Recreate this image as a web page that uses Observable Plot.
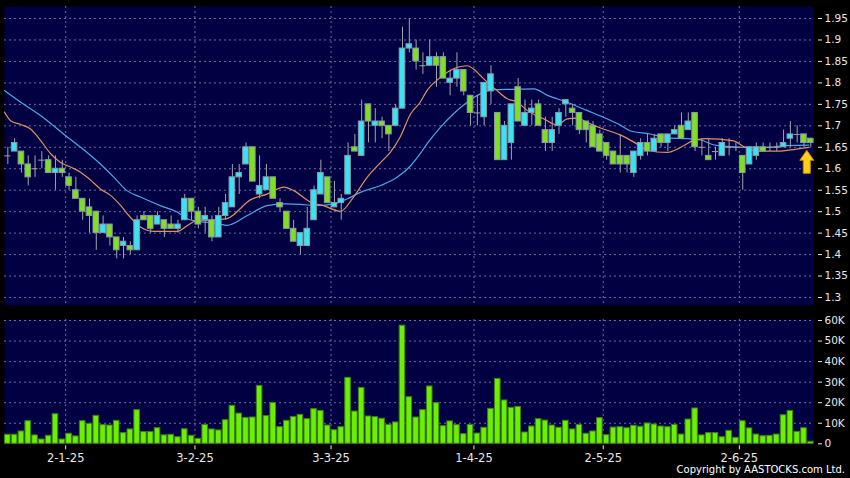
<!DOCTYPE html>
<html><head><meta charset="utf-8">
<script src="https://cdn.jsdelivr.net/npm/d3@7"></script>
<script src="https://cdn.jsdelivr.net/npm/@observablehq/plot@0.6"></script>
<style>
html,body{margin:0;padding:0;background:#000;}
#wrap{position:relative;width:850px;height:478px;background:#000;overflow:hidden;font-family:"DejaVu Sans",Verdana,sans-serif;}
#price{position:absolute;left:0;top:0;}
#vol{position:absolute;left:0;top:310px;}
#copy{position:absolute;right:5px;top:464px;color:#fff;font-size:10px;white-space:nowrap;}
svg{overflow:visible}
</style></head><body>
<div id="wrap"><div id="price"></div><div id="vol"></div><div id="copy">Copyright by AASTOCKS.com Ltd.</div></div>
<script>
// ---- data, one entry per trading day ----
const openP  = [1.63,1.64,1.64,1.61,1.60,1.62,1.62,1.59,1.60,1.58,1.55,1.53,1.51,1.50,1.45,1.47,1.44,1.42,1.42,1.41,
                1.49,1.49,1.47,1.48,1.47,1.46,1.48,1.53,1.50,1.48,1.48,1.44,1.49,1.51,1.58,1.61,1.65,1.54,1.55,1.58,
                1.52,1.50,1.46,1.42,1.42,1.48,1.54,1.58,1.51,1.52,1.54,1.65,1.63,1.75,1.70,1.71,1.70,1.70,1.74,1.88,
                1.88,1.84,1.84,1.86,1.86,1.80,1.81,1.83,1.77,1.73,1.72,1.78,1.73,1.62,1.66,1.79,1.70,1.73,1.75,1.69,
                1.66,1.70,1.75,1.74,1.73,1.71,1.70,1.68,1.66,1.64,1.63,1.63,1.59,1.63,1.66,1.64,1.68,1.66,1.68,1.70,
                1.69,1.73,1.65,1.63,1.64,1.63,1.65,1.65,1.63,1.61,1.63,1.65,1.65,1.65,1.65,1.67,1.68,1.68,1.67];
const highP  = [1.65,1.67,1.64,1.63,1.63,1.64,1.63,1.63,1.62,1.59,1.58,1.53,1.53,1.50,1.49,1.47,1.44,1.44,1.43,1.49,
                1.50,1.49,1.50,1.48,1.49,1.48,1.54,1.53,1.51,1.51,1.49,1.51,1.54,1.61,1.61,1.66,1.65,1.63,1.61,1.58,
                1.53,1.50,1.48,1.45,1.51,1.56,1.62,1.58,1.57,1.54,1.66,1.68,1.76,1.75,1.74,1.72,1.70,1.75,1.93,1.95,
                1.90,1.87,1.90,1.87,1.87,1.83,1.87,1.83,1.77,1.77,1.80,1.84,1.73,1.71,1.75,1.81,1.76,1.76,1.76,1.72,
                1.72,1.74,1.76,1.75,1.73,1.71,1.71,1.69,1.66,1.64,1.68,1.63,1.64,1.67,1.68,1.68,1.68,1.68,1.70,1.73,
                1.73,1.73,1.67,1.67,1.65,1.67,1.67,1.66,1.63,1.65,1.66,1.66,1.66,1.66,1.69,1.71,1.70,1.68,1.67];
const lowP   = [1.61,1.64,1.59,1.56,1.58,1.60,1.59,1.55,1.58,1.55,1.53,1.48,1.45,1.41,1.45,1.42,1.39,1.39,1.40,1.41,
                1.48,1.45,1.47,1.44,1.46,1.45,1.48,1.48,1.46,1.45,1.43,1.44,1.48,1.51,1.54,1.61,1.57,1.53,1.55,1.53,
                1.50,1.46,1.43,1.40,1.42,1.48,1.54,1.52,1.51,1.48,1.54,1.64,1.63,1.66,1.66,1.67,1.64,1.70,1.74,1.87,
                1.83,1.82,1.84,1.79,1.81,1.77,1.79,1.77,1.70,1.70,1.70,1.75,1.62,1.62,1.62,1.71,1.70,1.70,1.70,1.64,
                1.64,1.68,1.72,1.70,1.68,1.66,1.65,1.64,1.62,1.61,1.59,1.59,1.58,1.62,1.63,1.64,1.65,1.64,1.68,1.67,
                1.69,1.64,1.63,1.62,1.62,1.63,1.63,1.64,1.55,1.61,1.62,1.64,1.64,1.64,1.65,1.65,1.66,1.65,1.65];
const closeP = [1.63,1.66,1.61,1.58,1.60,1.62,1.59,1.60,1.59,1.56,1.53,1.50,1.49,1.45,1.47,1.44,1.41,1.43,1.41,1.48,
                1.48,1.46,1.49,1.46,1.46,1.47,1.53,1.50,1.47,1.49,1.44,1.49,1.52,1.58,1.59,1.65,1.57,1.56,1.58,1.53,
                1.51,1.46,1.43,1.45,1.46,1.55,1.59,1.52,1.52,1.53,1.63,1.64,1.71,1.71,1.71,1.70,1.68,1.74,1.88,1.89,
                1.85,1.84,1.86,1.84,1.81,1.81,1.83,1.78,1.73,1.73,1.80,1.82,1.62,1.70,1.75,1.71,1.73,1.74,1.70,1.66,
                1.69,1.73,1.76,1.73,1.69,1.69,1.65,1.64,1.63,1.61,1.61,1.61,1.64,1.66,1.64,1.67,1.66,1.68,1.69,1.67,
                1.71,1.65,1.65,1.62,1.64,1.66,1.65,1.65,1.59,1.65,1.65,1.64,1.65,1.65,1.66,1.68,1.68,1.66,1.66];
const volumeK = [4.4,4.4,6.0,11.0,4.1,2.1,3.9,14.4,2.1,4.9,3.6,11.0,9.7,13.6,9.1,8.9,11.2,5.2,7.0,16.4,
                 5.7,5.7,7.6,4.1,4.4,3.2,7.1,3.9,2.4,9.2,7.0,6.5,11.5,18.5,14.7,12.6,12.8,28.2,13.5,19.9,
                 8.1,11.2,13.1,14.1,12.0,16.9,16.0,8.9,6.6,8.1,32.1,15.7,27.2,13.3,13.0,12.2,9.2,10.4,57.5,22.7,
                 12.8,16.4,27.9,19.8,8.6,10.9,9.1,4.7,9.2,5.0,7.8,17.0,31.6,21.1,17.5,18.0,5.5,8.4,12.0,11.3,
                 8.9,7.8,11.2,7.0,9.2,4.9,6.0,12.5,4.2,7.9,8.1,7.6,8.8,8.3,9.9,9.4,8.4,8.1,9.2,4.5,
                 11.8,17.2,4.1,5.2,5.2,3.2,6.3,2.9,11.0,7.5,4.5,3.7,3.9,4.5,13.9,16.0,5.8,7.6,1.0];
// moving-average lines: [day position, value]
const maShort = [[-0.5,1.732],[0.4,1.712],[1.9,1.703],[3.3,1.693],[4.8,1.666],[6.3,1.635],[7.7,1.615],[9.2,1.604],
  [10.7,1.592],[12.2,1.573],[13.6,1.553],[15.1,1.538],[16.6,1.514],[18.0,1.487],[19.5,1.464],[21.4,1.454],[24.9,1.454],
  [26.4,1.468],[27.9,1.480],[29.3,1.480],[32.2,1.484],[35.7,1.528],[38.1,1.541],[40.6,1.557],[42.0,1.549],[44.5,1.522],
  [46.4,1.514],[48.9,1.501],[50.8,1.534],[52.8,1.580],[54.8,1.615],[56.2,1.638],[57.7,1.675],[59.2,1.728],[60.6,1.755],
  [61.6,1.782],[63.6,1.813],[65.5,1.833],[67.5,1.840],[68.7,1.829],[69.9,1.810],[71.9,1.782],[73.4,1.763],[74.9,1.755],
  [76.3,1.736],[78.8,1.716],[80.7,1.702],[82.2,1.716],[83.7,1.718],[85.1,1.708],[87.1,1.695],[89.0,1.685],[90.0,1.679],
  [92.0,1.662],[93.5,1.647],[95.4,1.639],[96.9,1.638],[98.9,1.650],[100.8,1.666],[102.5,1.670],[106.7,1.665],[108.1,1.652],
  [110.1,1.641],[113.1,1.641],[115.0,1.644],[117.7,1.650]];
const maLong = [[-0.5,1.782],[1.9,1.755],[4.8,1.724],[8.5,1.677],[10.7,1.650],[13.6,1.611],[15.6,1.580],[17.5,1.549],
  [19.5,1.534],[22.4,1.514],[24.9,1.499],[26.4,1.483],[28.3,1.477],[30.8,1.473],[32.2,1.468],[35.2,1.491],[38.1,1.514],
  [40.6,1.518],[43.0,1.517],[45.5,1.514],[47.9,1.518],[49.9,1.530],[51.8,1.545],[54.8,1.561],[57.2,1.580],[59.2,1.607],
  [60.6,1.635],[61.6,1.658],[63.6,1.697],[65.5,1.728],[67.5,1.755],[69.5,1.775],[71.4,1.784],[74.4,1.785],[77.3,1.786],
  [79.3,1.771],[82.2,1.755],[85.1,1.736],[88.1,1.716],[90.0,1.702],[91.5,1.688],[94.4,1.681],[96.9,1.672],[99.8,1.670],
  [101.8,1.667],[103.7,1.656],[105.7,1.652],[108.2,1.650],[111.6,1.650],[114.5,1.654],[117.7,1.655]];
const monthStartIdx = [8, 27, 47, 68, 87, 107];
const monthLabels = ["2-1-25","3-2-25","3-3-25","1-4-25","2-5-25","2-6-25"];
const priceTicks = [1.3,1.35,1.4,1.45,1.5,1.55,1.6,1.65,1.7,1.75,1.8,1.85,1.9,1.95];
const volTicks = [0,10,20,30,40,50,60];

// ---- derived table ----
const days = openP.map((o, i) => ({i, o, h: highP[i], l: lowP[i], c: closeP[i], v: volumeK[i]}));
const bodies = days.filter(d => d.o !== d.c);
const dojis = days.filter(d => d.o === d.c);
const gridX = monthStartIdx.map(d => d + 0.5);
const labelOf = new Map(gridX.map((g, k) => [g, monthLabels[k]]));
const last = days[days.length - 1];

const PANEL = "#000042", GRID = "#6c6ca0", TXT = "#e8e8e8";
const UP = "#38e4f2", DOWN = "#7ee020", WICK = "#a4a4a4", EDGE = "#8a9aa8";
const xDomain = [-0.49, 118.4];
const style = {background: "transparent", color: TXT, fontFamily: "DejaVu Sans, sans-serif", fontSize: "10.5px"};
const grid = {stroke: GRID, strokeDasharray: "2,3", strokeWidth: 1};

const arrowSymbol = {
  draw(ctx, size) {
    ctx.moveTo(0, 3); ctx.lineTo(7, 13); ctx.lineTo(3.5, 13); ctx.lineTo(3.5, 26);
    ctx.lineTo(-3.5, 26); ctx.lineTo(-3.5, 13); ctx.lineTo(-7, 13); ctx.closePath();
  }
};

const pricePlot = Plot.plot({
  width: 850, height: 310,
  marginLeft: 4, marginRight: 37, marginTop: 6, marginBottom: 5,
  style,
  x: {domain: xDomain, axis: null},
  y: {domain: [1.2814, 1.978], axis: null},
  marks: [
    Plot.frame({fill: PANEL, stroke: null}),
    Plot.ruleY(priceTicks, {...grid}),
    Plot.ruleX(gridX, {...grid}),
    Plot.axisY(priceTicks, {anchor: "right", label: null, tickSize: 4, dx: 4, tickPadding: 3, stroke: TXT,
      tickFormat: d => String(d), fill: TXT}),
    Plot.line(maLong, {x: d => d[0], y: d => d[1], stroke: "#4ea6ea", strokeWidth: 1.2, curve: "monotone-x", clip: true}),
    Plot.line(maShort, {x: d => d[0], y: d => d[1], stroke: "#e2905c", strokeWidth: 1.2, curve: "monotone-x", clip: true}),
    Plot.ruleX(days, {x: "i", y1: "l", y2: "h", stroke: WICK, strokeWidth: 1}),
    Plot.rect(bodies, {x1: d => d.i - 0.41, x2: d => d.i + 0.41, y1: "o", y2: "c",
      fill: d => d.c > d.o ? UP : DOWN, stroke: EDGE, strokeWidth: 1}),
    Plot.ruleY(dojis, {x1: d => d.i - 0.45, x2: d => d.i + 0.45, y: "c", stroke: WICK, strokeWidth: 1}),
    Plot.dot([last], {x: "i", y: "l", symbol: arrowSymbol, r: 5, dx: -4, fill: "#ffcf1a", stroke: "#c88a00", strokeWidth: 1})
  ]
});
document.getElementById("price").appendChild(pricePlot);

const volPlot = Plot.plot({
  width: 850, height: 168,
  marginLeft: 4, marginRight: 37, marginTop: 9, marginBottom: 34.7,
  style,
  x: {domain: xDomain, axis: null},
  y: {domain: [0, 60.5], axis: null},
  marks: [
    Plot.frame({fill: PANEL, stroke: null}),
    Plot.ruleY(volTicks.filter(d => d > 0), {...grid}),
    Plot.ruleX(gridX, {...grid}),
    Plot.axisY(volTicks, {anchor: "right", label: null, tickSize: 4, dx: 4, tickPadding: 3, stroke: TXT, fill: TXT,
      tickFormat: d => d === 0 ? "0" : d + "K"}),
    Plot.axisX(gridX, {anchor: "bottom", label: null, tickSize: 4, dy: 2, tickPadding: 4, stroke: TXT, fill: TXT,
      fontSize: 11.5, tickFormat: d => labelOf.get(d)}),
    Plot.rect(days, {x1: d => d.i - 0.41, x2: d => d.i + 0.41, y1: 0, y2: "v",
      fill: "#6af000", stroke: "#3d8014", strokeWidth: 1})
  ]
});
document.getElementById("vol").appendChild(volPlot);
</script>
</body></html>
